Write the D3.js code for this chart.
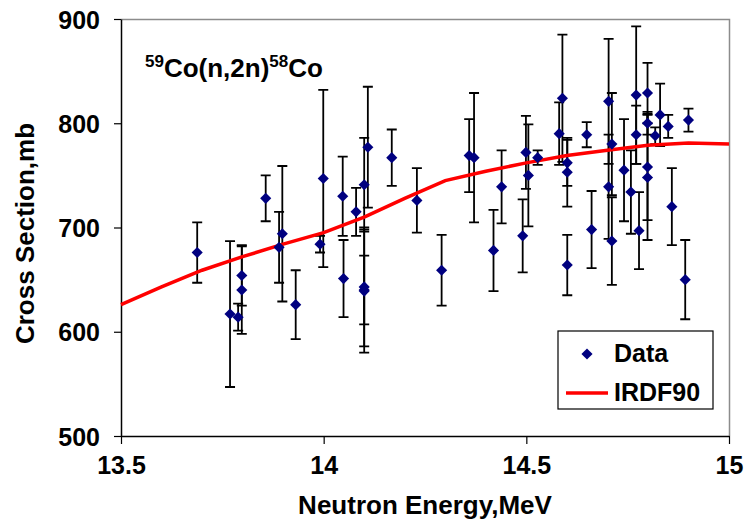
<!DOCTYPE html>
<html>
<head>
<meta charset="utf-8">
<script src="https://cdnjs.cloudflare.com/ajax/libs/d3/7.8.5/d3.min.js"></script>
<style>
  body { margin: 0; background: #fff; }
  text { font-family: Arial, "Liberation Sans", sans-serif; font-weight: bold; }
</style>
</head>
<body>
<div class="canvaChart"></div>
<script>
// measured points: neutron energy (MeV), cross section (mb), error (mb)
const energy = [13.688, 13.769, 13.789, 13.798, 13.798, 13.857, 13.890, 13.898, 13.931, 13.991,
  13.999, 14.047, 14.049, 14.080, 14.100, 14.109, 14.100, 14.100, 14.100, 14.168,
  14.230, 14.291, 14.359, 14.371, 14.419, 14.439, 14.491, 14.499, 14.505, 14.528,
  14.581, 14.589, 14.601, 14.601, 14.601, 14.649, 14.661, 14.703, 14.703, 14.711,
  14.711, 14.741, 14.758, 14.771, 14.771, 14.778, 14.799, 14.799, 14.799, 14.799,
  14.818, 14.830, 14.850, 14.859, 14.892, 14.900];
const crossSection = [676, 617, 614, 640, 654, 728, 681, 694, 626, 684,
  747, 730, 651, 715, 741, 777, 643, 639, 640, 767,
  726, 659, 769, 767, 678, 739, 692, 772, 750, 767,
  790, 824, 762, 753, 664, 789, 698, 821, 739, 780,
  687, 755, 734, 827, 789, 697, 829, 800, 758, 748,
  788, 808, 797, 720, 650, 803];
const errors = [29, 70, 13, 42, 29, 22, 34, 65, 33, 8,
  85, 38, 37, 23, 45, 58, 57, 59, 33, 27,
  31, 34, 35, 62, 39, 35, 35, 35, 49, 7,
  30, 61, 22, 33, 29, 12, 37, 60, 50, 49,
  42, 49, 40, 66, 28, 37, 29, 11, 51, 60,
  8, 30, 11, 37, 38, 11];

// IRDF90 evaluation
const irdfEnergy = [13.5, 13.6, 13.7, 13.8, 13.9, 14.0, 14.1, 14.2, 14.3, 14.4, 14.5, 14.6, 14.7, 14.8, 14.9, 15.0];
const irdfXs = [626, 643, 659, 672, 684, 695, 710, 728, 745, 754, 762, 769, 774, 779, 781, 780];

const xTicks = [13.5, 14, 14.5, 15];
const yTicks = [500, 600, 700, 800, 900];

const width = 748, height = 529;
const plotL = 121, plotR = 729, plotT = 19, plotB = 436;

const svg = d3.select(".canvaChart").append("svg")
  .attr("width", width)
  .attr("height", height);

const x = d3.scaleLinear().domain([13.5, 15]).range([plotL, plotR]);
const y = d3.scaleLinear().domain([500, 900]).range([plotB, plotT]);

// grey frame on top and right
svg.append("path")
  .attr("d", `M${plotL},${plotT + 0.5}H${plotR + 0.5}V${plotB}`)
  .attr("fill", "none")
  .attr("stroke", "#8c8c8c")
  .attr("stroke-width", 1.5);

const xAxis = svg.append("g")
  .attr("transform", `translate(0,${plotB})`)
  .call(d3.axisBottom(x).tickValues(xTicks).tickFormat(d3.format("")).tickSize(8).tickSizeOuter(0).tickPadding(12));

const yAxis = svg.append("g")
  .attr("transform", `translate(${plotL},0)`)
  .call(d3.axisLeft(y).tickValues(yTicks).tickSize(7).tickSizeOuter(0).tickPadding(14));

[xAxis, yAxis].forEach(g => {
  g.select(".domain").attr("stroke", "#000").attr("stroke-width", 1.5);
  g.selectAll(".tick line").attr("stroke", "#000").attr("stroke-width", 1.2);
  g.selectAll(".tick text").attr("font-size", 25).attr("fill", "#000")
    .style("font-family", "Arial, 'Liberation Sans', sans-serif").style("font-weight", "bold");
});
yAxis.selectAll(".tick text").attr("dy", "0.36em");

// axis titles
svg.append("text")
  .attr("x", (plotL + plotR) / 2)
  .attr("y", 514)
  .attr("text-anchor", "middle")
  .attr("font-size", 26)
  .text("Neutron Energy,MeV");

svg.append("text")
  .attr("transform", `translate(34,${(plotT + plotB) / 2 + 6}) rotate(-90)`)
  .attr("text-anchor", "middle")
  .attr("font-size", 26)
  .text("Cross Section,mb");

// reaction label
const label = svg.append("text")
  .attr("x", 145)
  .attr("y", 77)
  .attr("font-size", 26);
label.append("tspan").attr("font-size", 17).attr("dy", -10).text("59");
label.append("tspan").attr("dy", 10).text("Co(n,2n)");
label.append("tspan").attr("font-size", 17).attr("dy", -10).text("58");
label.append("tspan").attr("dy", 10).text("Co");

const points = energy.map((e, i) => ({ e: e, s: crossSection[i], err: errors[i] }));

// error bars
const bars = svg.append("g").attr("stroke", "#000").attr("stroke-width", 1.8);
bars.selectAll("path")
  .data(points)
  .enter().append("path")
  .attr("fill", "none")
  .attr("d", d => {
    const cx = x(d.e), y1 = y(d.s + d.err), y2 = y(d.s - d.err);
    return `M${cx},${y1}V${y2}M${cx - 5},${y1}H${cx + 5}M${cx - 5},${y2}H${cx + 5}`;
  });

// IRDF90 curve
const line = d3.line().x(d => x(d[0])).y(d => y(d[1]));
svg.append("path")
  .datum(irdfEnergy.map((e, i) => [e, irdfXs[i]]))
  .attr("d", line)
  .attr("fill", "none")
  .attr("stroke", "#ff0000")
  .attr("stroke-width", 3.5);

// markers
const diamond = d3.symbol().type(d3.symbolSquare).size(62);
svg.append("g").selectAll("path")
  .data(points)
  .enter().append("path")
  .attr("d", diamond)
  .attr("fill", "#000080")
  .attr("transform", d => `translate(${x(d.e)},${y(d.s)}) rotate(45)`);

// legend
const legend = svg.append("g");
legend.append("rect")
  .attr("x", 558).attr("y", 331)
  .attr("width", 155).attr("height", 78)
  .attr("fill", "#fff")
  .attr("stroke", "#000")
  .attr("stroke-width", 1.2);
legend.append("path")
  .attr("d", diamond)
  .attr("fill", "#000080")
  .attr("transform", "translate(587,354) rotate(45)");
legend.append("text").attr("x", 614).attr("y", 362).attr("font-size", 25).text("Data");
legend.append("line")
  .attr("x1", 566).attr("x2", 608)
  .attr("y1", 393).attr("y2", 393)
  .attr("stroke", "#ff0000")
  .attr("stroke-width", 3.5);
legend.append("text").attr("x", 614).attr("y", 401).attr("font-size", 25).text("IRDF90");
</script>
</body>
</html>
